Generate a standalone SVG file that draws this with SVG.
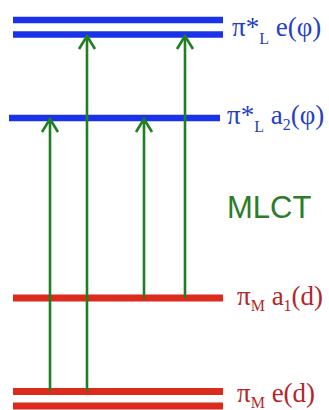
<svg xmlns="http://www.w3.org/2000/svg" width="329" height="410" viewBox="0 0 329 410">
<defs>
<style>
.lvB{stroke:#1a33e8;stroke-width:6.5;fill:none}
.lvR{stroke:#dc2a1c;stroke-width:7;fill:none}
.arr{stroke:#1f7f22;stroke-width:2.6;fill:none}
.tB{font-family:"Liberation Serif",serif;font-size:27px;fill:#2540c8}
.tR{font-family:"Liberation Serif",serif;font-size:27px;fill:#b5252a}
.sub{font-size:16px}
.mlct{font-family:"Liberation Sans",Arial,sans-serif;font-size:31px;fill:#2a7d2a}
</style>
<marker id="head" viewBox="0 0 20 20" refX="18" refY="10" markerWidth="20" markerHeight="20" markerUnits="userSpaceOnUse" orient="auto">
<path d="M5,2 L18,10 L5,18" fill="none" stroke="#1f7f22" stroke-width="2.6"/>
</marker>
</defs>
<g id="level-pi-L-e">
<line class="lvB" x1="13" y1="20" x2="223" y2="20"/>
<line class="lvB" x1="13" y1="34.5" x2="223" y2="34.5"/>
<text class="tB" x="232" y="36">π*<tspan class="sub" dy="8">L</tspan><tspan dy="-8"> e(φ)</tspan></text>
</g>
<g id="level-pi-L-a2">
<line class="lvB" x1="9" y1="118" x2="220" y2="118"/>
<text class="tB" x="227" y="124">π*<tspan class="sub" dy="8">L</tspan><tspan dy="-8"> a</tspan><tspan class="sub" dy="6">2</tspan><tspan dy="-6">(φ)</tspan></text>
</g>
<g id="level-pi-M-a1">
<line class="lvR" x1="13" y1="298" x2="223" y2="298"/>
<text class="tR" x="237" y="305">π<tspan class="sub" dy="6">M</tspan><tspan dy="-6"> a</tspan><tspan class="sub" dy="6">1</tspan><tspan dy="-6">(d)</tspan></text>
</g>
<g id="level-pi-M-e">
<line class="lvR" x1="13" y1="391.5" x2="223" y2="391.5"/>
<line class="lvR" x1="13" y1="406" x2="223" y2="406"/>
<text class="tR" x="237" y="402">π<tspan class="sub" dy="6">M</tspan><tspan dy="-6"> e(d)</tspan></text>
</g>
<g id="label-mlct">
<text class="mlct" x="227" y="218">MLCT</text>
</g>
<g id="connectors">
<line class="arr" x1="50" y1="391" x2="50" y2="119" marker-end="url(#head)"/>
<line class="arr" x1="87" y1="391" x2="87" y2="36" marker-end="url(#head)"/>
<line class="arr" x1="144" y1="298" x2="144" y2="119" marker-end="url(#head)"/>
<line class="arr" x1="185" y1="298" x2="185" y2="36" marker-end="url(#head)"/>
</g>
</svg>
